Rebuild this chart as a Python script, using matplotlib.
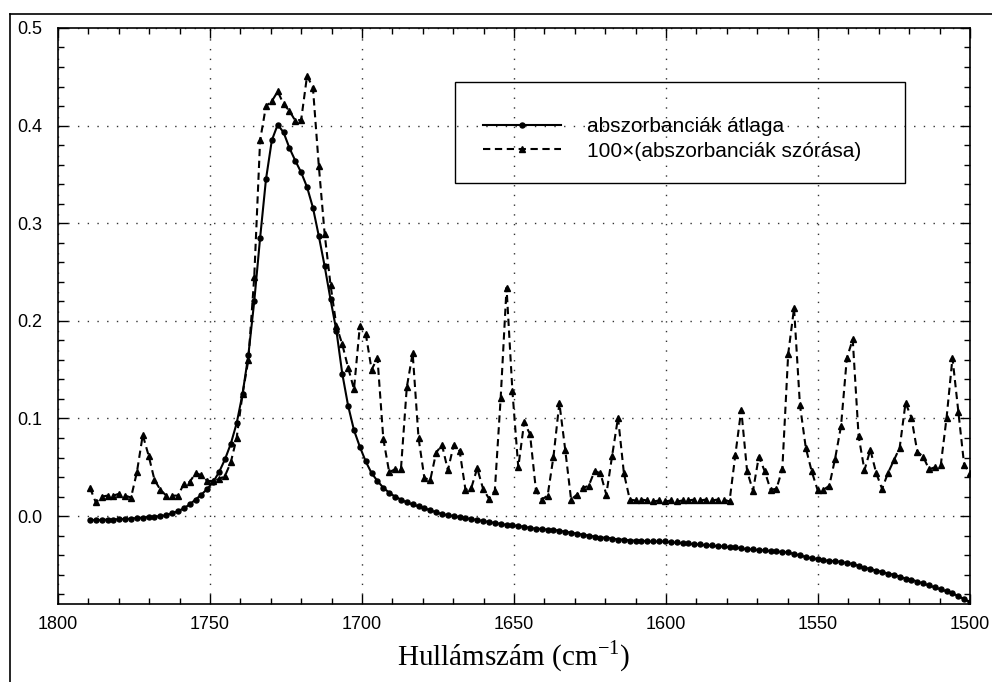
import numpy as np
import matplotlib.pyplot as plt
from matplotlib.patches import Rectangle
from matplotlib.lines import Line2D
from matplotlib.ticker import MultipleLocator

# wavenumber grid of the spectra (cm^-1), uniform sampling
wn_start = 1789.5
wn_step = 1.93
n_points = 151
wavenumber = wn_start - wn_step * np.arange(n_points)

# mean absorbance over the sample set
mean_abs = [
    -0.004, -0.004, -0.004, -0.0035, -0.0035, -0.003, -0.003, -0.0025, -0.002, -0.0015,
    -0.001, -0.0005, 0.000, 0.001, 0.003, 0.005, 0.008, 0.012, 0.017, 0.022,
    0.028, 0.035, 0.045, 0.058, 0.074, 0.095, 0.125, 0.165, 0.220, 0.285,
    0.345, 0.385, 0.401, 0.393, 0.377, 0.364, 0.352, 0.337, 0.316, 0.287,
    0.256, 0.222, 0.190, 0.146, 0.113, 0.088, 0.071, 0.056, 0.044, 0.036,
    0.029, 0.024, 0.020, 0.017, 0.014, 0.012, 0.010, 0.008, 0.006, 0.004,
    0.002, 0.001, 0.000, -0.001, -0.002, -0.003, -0.004, -0.005, -0.006, -0.007,
    -0.008, -0.009, -0.0095, -0.010, -0.011, -0.012, -0.013, -0.013, -0.014, -0.014,
    -0.015, -0.016, -0.017, -0.018, -0.019, -0.020, -0.021, -0.022, -0.022, -0.023,
    -0.024, -0.024, -0.025, -0.025, -0.025, -0.026, -0.026, -0.026, -0.026, -0.027,
    -0.027, -0.028, -0.028, -0.029, -0.029, -0.030, -0.030, -0.031, -0.031, -0.032,
    -0.032, -0.033, -0.034, -0.034, -0.035, -0.035, -0.036, -0.036, -0.037, -0.037,
    -0.039, -0.040, -0.042, -0.043, -0.044, -0.045, -0.046, -0.046, -0.047, -0.048,
    -0.049, -0.051, -0.053, -0.054, -0.056, -0.057, -0.059, -0.060, -0.062, -0.064,
    -0.065, -0.067, -0.069, -0.071, -0.073, -0.075, -0.077, -0.079, -0.082, -0.085,
    -0.088,
]

# standard deviation of the absorbances, already multiplied by 100
std_abs_x100 = [
    0.029, 0.014, 0.020, 0.021, 0.021, 0.023, 0.021, 0.019, 0.045, 0.083,
    0.062, 0.037, 0.027, 0.021, 0.021, 0.021, 0.033, 0.035, 0.044, 0.042,
    0.036, 0.036, 0.038, 0.041, 0.055, 0.080, 0.125, 0.160, 0.245, 0.385,
    0.420, 0.425, 0.435, 0.422, 0.415, 0.405, 0.406, 0.451, 0.439, 0.359,
    0.289, 0.237, 0.195, 0.176, 0.152, 0.130, 0.195, 0.187, 0.150, 0.162,
    0.079, 0.045, 0.048, 0.048, 0.132, 0.167, 0.080, 0.039, 0.037, 0.065,
    0.073, 0.047, 0.073, 0.067, 0.027, 0.029, 0.049, 0.028, 0.018, 0.026,
    0.121, 0.234, 0.128, 0.050, 0.096, 0.084, 0.027, 0.017, 0.021, 0.061,
    0.116, 0.068, 0.017, 0.022, 0.029, 0.031, 0.046, 0.044, 0.022, 0.062,
    0.101, 0.044, 0.017, 0.016, 0.017, 0.016, 0.015, 0.016, 0.015, 0.016,
    0.015, 0.016, 0.016, 0.017, 0.016, 0.017, 0.016, 0.017, 0.017, 0.015,
    0.063, 0.109, 0.046, 0.026, 0.061, 0.046, 0.027, 0.028, 0.048, 0.166,
    0.213, 0.114, 0.070, 0.046, 0.027, 0.027, 0.031, 0.059, 0.092, 0.162,
    0.181, 0.082, 0.047, 0.068, 0.044, 0.028, 0.044, 0.057, 0.070, 0.116,
    0.101, 0.066, 0.061, 0.048, 0.050, 0.052, 0.101, 0.162, 0.107, 0.052,
    0.044,
]

label_mean = 'abszorbanciák átlaga'
label_std = '100×(abszorbanciák szórása)'

plt.rcParams['font.family'] = ['Liberation Sans', 'DejaVu Sans']
plt.rcParams['mathtext.fontset'] = 'custom'
plt.rcParams['mathtext.rm'] = 'Liberation Serif'

fig = plt.figure(figsize=(9.92, 6.82), dpi=100)
ax = fig.add_axes([0.0585, 0.1144, 0.9194, 0.8446])

dash = (0, (3.5, 2.2))
ax.plot(wavenumber, mean_abs, color='black', linewidth=1.5,
        marker='o', markersize=3.6, label=label_mean)
ax.plot(wavenumber, std_abs_x100, color='black', linewidth=1.5,
        linestyle=dash, marker='^', markersize=4.2, label=label_std)

ax.set_xlim(1800, 1500)
ax.set_ylim(-0.09, 0.5)
ax.xaxis.set_major_locator(MultipleLocator(50))
ax.xaxis.set_minor_locator(MultipleLocator(10))
ax.yaxis.set_minor_locator(MultipleLocator(0.02))
ax.set_yticks([0.0, 0.1, 0.2, 0.3, 0.4, 0.5])
ax.set_yticklabels(['0.0', '0.1', '0.2', '0.3', '0.4', '0.5'])

ax.tick_params(which='both', direction='in', top=True, right=True,
               width=1.0, labelsize=13, colors='black')
ax.tick_params(which='major', length=7)
ax.tick_params(which='minor', length=4)
ax.tick_params(axis='x', pad=8.5)
ax.tick_params(axis='y', pad=11.5)

ax.grid(True, which='major', color='#333333', linestyle=(0, (1, 6)),
        linewidth=1.0)
for s in ax.spines.values():
    s.set_linewidth(1.2)

# x axis title in a serif face below the tick labels
fig.text(514 / 992, 1 - 665 / 682, 'Hullámszám (cm$^{-1}$)', fontsize=21,
         family='Liberation Serif', ha='center', va='baseline')

# legend: frameless entries with a separate square box
handles = [
    Line2D([], [], color='black', linewidth=1.5, marker='o', markersize=3.6),
    Line2D([], [], color='black', linewidth=1.5, linestyle=dash,
           marker='^', markersize=4.2),
]
ax.legend(handles, [label_mean, label_std], loc='upper left',
          bbox_to_anchor=(0.454, 0.863), frameon=False, fontsize=15,
          borderpad=0, handlelength=3.75, handletextpad=1.25,
          labelspacing=0.25)
box = Rectangle((455 / 992, 1 - 183 / 682), 450 / 992, 101 / 682,
                transform=fig.transFigure, fill=False, edgecolor='black',
                linewidth=1.0, zorder=5)
fig.patches.append(box)

# outer frame around the whole plot
fig.add_artist(Line2D([10 / 992, 10 / 992], [0, 1 - 14 / 682],
                      transform=fig.transFigure, color='black', linewidth=1.2))
fig.add_artist(Line2D([10 / 992, 1], [1 - 14 / 682, 1 - 14 / 682],
                      transform=fig.transFigure, color='black', linewidth=1.2))

fig.savefig('out.png', dpi=100, facecolor='white')
